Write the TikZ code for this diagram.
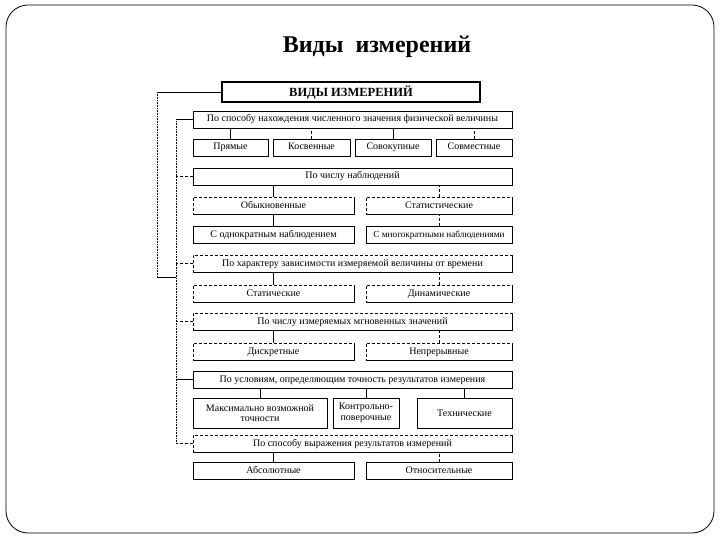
\documentclass[tikz,border=0pt]{standalone}
\usepackage{fontspec}
\setmainfont{Liberation Serif}
\usetikzlibrary{shadows}

\begin{document}
\begin{tikzpicture}[x=1pt,y=-1pt,
  frame/.style={draw, line width=0.6pt, fill=white, inner sep=1pt, align=center,
    font=\fontsize{10}{10.5}\selectfont,
    drop shadow={shadow xshift=1.2pt, shadow yshift=-1.2pt, opacity=1, fill=black}},
  box/.style={frame, text height=7pt, text depth=2pt},
  dbox/.style={box, densely dashed},
  cat/.style={minimum width=319pt, minimum height=17pt},
  link/.style={line width=0.6pt},
  dlink/.style={line width=0.6pt, densely dashed},
  dotline/.style={line width=0.6pt, densely dotted}]
\useasboundingbox (0,0) rectangle (720,540);
% slide frame
\draw[line width=0.8pt, rounded corners=22pt] (6,5) rectangle (714,533);
\node[font=\fontsize{24}{27}\selectfont\bfseries] (title) at (377,47) {Виды\ \ измерений};

% main box
\node[frame, line width=1.2pt, font=\fontsize{12.5}{13}\selectfont\bfseries,
  text height=8.5pt, text depth=0pt, minimum width=258pt, minimum height=20pt] (vid) at (351,92) {ВИДЫ ИЗМЕРЕНИЙ};

% categories
\node[box, cat] (c1) at (352.5,119.5) {По способу нахождения численного значения физической величины};
\node[box, cat] (c2) at (352.5,176.5) {По числу наблюдений};
\node[dbox, cat] (c3) at (352.5,263.5) {По характеру зависимости измеряемой величины от времени};
\node[dbox, cat] (c4) at (352.5,321.5) {По числу измеряемых мгновенных значений};
\node[box, cat] (c5) at (352.5,379.5) {По условиям, определяющим точность результатов измерения};
\node[dbox, cat] (c6) at (352.5,443.5) {По способу выражения результатов измерений};

% kinds
\node[box, minimum width=75pt, minimum height=17pt] (pr) at (230.5,147.5) {Прямые};
\node[box, minimum width=77pt, minimum height=17pt] (ko) at (311.5,147.5) {Косвенные};
\node[box, minimum width=76pt, minimum height=17pt] (sk) at (393,147.5) {Совокупные};
\node[box, minimum width=76pt, minimum height=17pt] (sm) at (474,147.5) {Совместные};

\node[dbox, minimum width=161pt, minimum height=17pt] (ob) at (273.5,205.5) {Обыкновенные};
\node[dbox, minimum width=146pt, minimum height=17pt] (st) at (439,205.5) {Статистические};
\node[box, minimum width=161pt, minimum height=17pt] (odn) at (273.5,234.5) {С однократным наблюдением};
\node[box, minimum width=146pt, minimum height=17pt, font=\fontsize{9.2}{10}\selectfont] (mng) at (439,234.5) {С многократными наблюдениями};

\node[dbox, minimum width=161pt, minimum height=17pt] (sta) at (273.5,293.5) {Статические};
\node[dbox, minimum width=146pt, minimum height=17pt] (din) at (439,293.5) {Динамические};

\node[dbox, minimum width=161pt, minimum height=17pt] (dis) at (273.5,351.5) {Дискретные};
\node[dbox, minimum width=146pt, minimum height=17pt] (nep) at (439,351.5) {Непрерывные};

\node[frame, minimum width=134pt, minimum height=30pt] (max) at (260,413) {Максимально возможной\\точности};
\node[frame, minimum width=66pt, minimum height=30pt] (kon) at (366,413) {Контрольно-\\поверочные};
\node[frame, minimum width=95pt, minimum height=30pt] (teh) at (464.5,413) {Технические};

\node[box, minimum width=161pt, minimum height=17pt] (abs) at (273.5,470.5) {Абсолютные};
\node[box, minimum width=146pt, minimum height=17pt] (otn) at (439,470.5) {Относительные};

% links to kinds
\draw[link] (pr.north) -- (pr.north |- c1.south);
\draw[dlink] (ko.north) -- (ko.north |- c1.south);
\draw[link] (sk.north) -- (sk.north |- c1.south);
\draw[dlink] (sm.north) -- (sm.north |- c1.south);
\draw[link] (ob.north) -- (ob.north |- c2.south);
\draw[dlink] (st.north) -- (st.north |- c2.south);
\draw[link] (odn.north) -- (ob.south);
\draw[dlink] (mng.north) -- (st.south);
\draw[link] (sta.north) -- (sta.north |- c3.south);
\draw[dlink] (din.north) -- (din.north |- c3.south);
\draw[link] (dis.north) -- (dis.north |- c4.south);
\draw[dlink] (nep.north) -- (nep.north |- c4.south);
\draw[link] (max.north) -- (max.north |- c5.south);
\draw[link] (kon.north) -- (kon.north |- c5.south);
\draw[link] (teh.north) -- (teh.north |- c5.south);
\draw[link] (abs.north) -- (abs.north |- c6.south);
\draw[dlink] (otn.north) -- (otn.north |- c6.south);

% left spine
\coordinate (ot) at (157,92);
\coordinate (ob2) at (157,277);
\coordinate (it) at (176,119.5);
\coordinate (ib) at (176,443.5);
\draw[dotline] (ot) -- (ob2);
\draw[link] (vid.west) -- (ot);
\draw[link] (ob2) -- (ob2 -| it);
\draw[dotline] (it) -- (ib);
\draw[link] (c1.west) -- (c1.west -| it);
\draw[dlink] (c2.west) -- (c2.west -| it);
\draw[dlink] (c3.west) -- (c3.west -| it);
\draw[dlink] (c4.west) -- (c4.west -| it);
\draw[link] (c5.west) -- (c5.west -| it);
\draw[dlink] (c6.west) -- (c6.west -| it);
\end{tikzpicture}
\end{document}
